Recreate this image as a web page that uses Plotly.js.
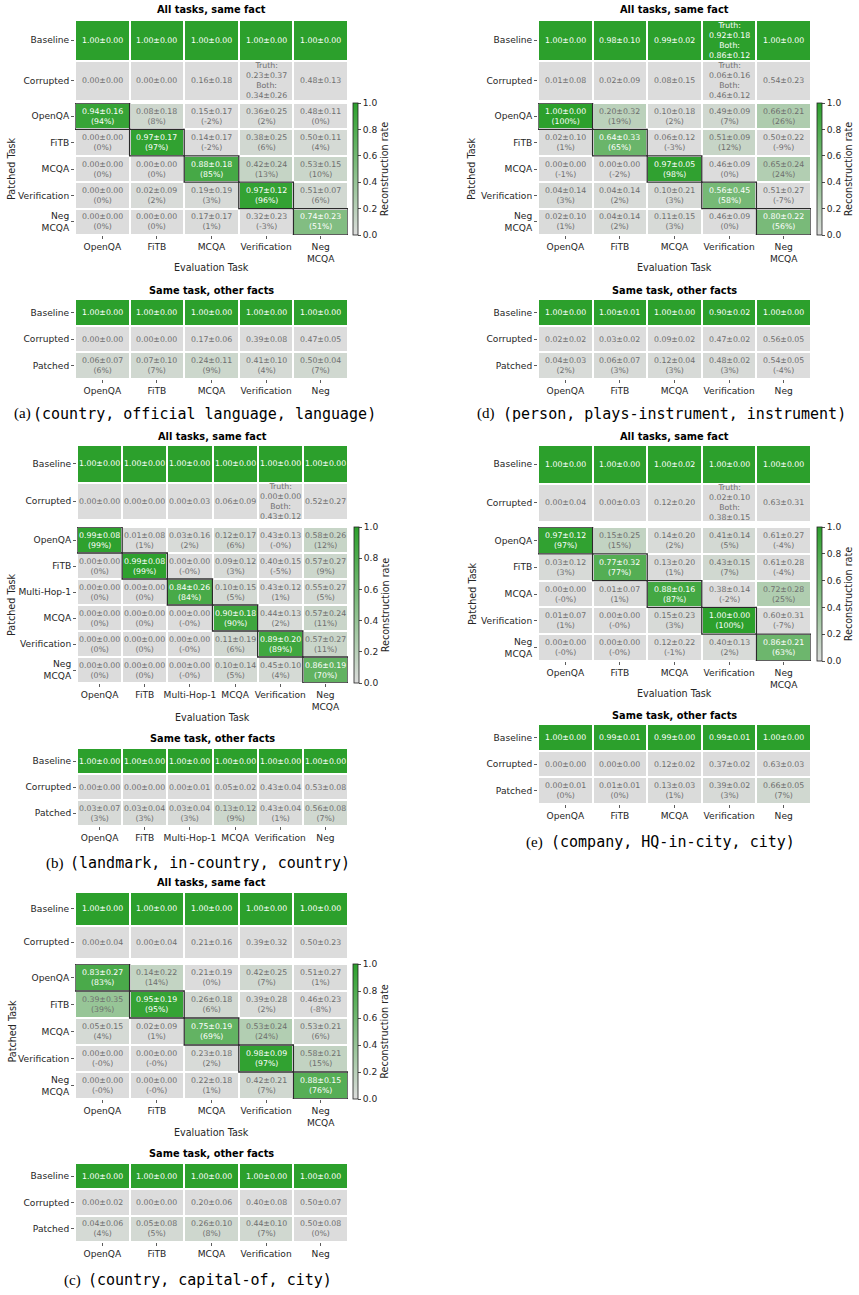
<!DOCTYPE html>
<html>
<head>
<meta charset="utf-8">
<script src="https://cdn.plot.ly/plotly-3.0.1.min.js"></script>
<style>html,body{margin:0;padding:0;background:#fff;}#chart{width:859px;height:1295px;}</style>
</head>
<body>
<div id="chart"></div>
<script>
// ---------------- DATA ----------------
// Panel (a) (country, official language, language)
const aEval = ['OpenQA','FiTB','MCQA','Verification','Neg<br>MCQA'];
const aPatched = ['OpenQA','FiTB','MCQA','Verification','Neg<br>MCQA'];
const aBaseMean = [1.00,1.00,1.00,1.00,1.00];
const aBaseStd  = [0.00,0.00,0.00,0.00,0.00];
const aCorrMean = [0.00,0.00,0.16,null,0.48];
const aCorrStd  = [0.00,0.00,0.18,null,0.13];
const aCorrTruth = [0.23,0.37];
const aCorrBoth  = [0.34,0.26];
const aPatchMean = [[0.94,0.08,0.15,0.36,0.48],[0.00,0.97,0.14,0.38,0.50],[0.00,0.00,0.88,0.42,0.53],[0.00,0.02,0.19,0.97,0.51],[0.00,0.00,0.17,0.32,0.74]];
const aPatchStd  = [[0.16,0.18,0.17,0.25,0.11],[0.00,0.17,0.17,0.25,0.11],[0.00,0.00,0.18,0.24,0.15],[0.00,0.09,0.19,0.12,0.07],[0.00,0.00,0.17,0.23,0.23]];
const aPatchPct  = [[94,8,-2,2,0],[0,97,-2,6,4],[0,0,85,13,10],[0,2,3,96,6],[0,0,1,-3,51]];
const aOtherEval = ['OpenQA','FiTB','MCQA','Verification','Neg'];
const aOtherBaseMean = [1.00,1.00,1.00,1.00,1.00];
const aOtherBaseStd  = [0.00,0.00,0.00,0.00,0.00];
const aOtherCorrMean = [0.00,0.00,0.17,0.39,0.47];
const aOtherCorrStd  = [0.00,0.00,0.06,0.08,0.05];
const aOtherPatchMean = [0.06,0.07,0.24,0.41,0.50];
const aOtherPatchStd  = [0.07,0.10,0.11,0.10,0.04];
const aOtherPatchPct  = [6,7,9,4,7];

// Panel (d) (person, plays-instrument, instrument)
const dEval = ['OpenQA','FiTB','MCQA','Verification','Neg<br>MCQA'];
const dPatched = ['OpenQA','FiTB','MCQA','Verification','Neg<br>MCQA'];
const dBaseMean = [1.00,0.98,0.99,null,1.00];
const dBaseStd  = [0.00,0.10,0.02,null,0.00];
const dBaseTruth = [0.92,0.18];
const dBaseBoth  = [0.86,0.12];
const dCorrMean = [0.01,0.02,0.08,null,0.54];
const dCorrStd  = [0.08,0.09,0.15,null,0.23];
const dCorrTruth = [0.06,0.16];
const dCorrBoth  = [0.46,0.12];
const dPatchMean = [[1.00,0.20,0.10,0.49,0.66],[0.02,0.64,0.06,0.51,0.50],[0.00,0.00,0.97,0.46,0.65],[0.04,0.04,0.10,0.56,0.51],[0.02,0.04,0.11,0.46,0.80]];
const dPatchStd  = [[0.00,0.32,0.18,0.09,0.21],[0.10,0.33,0.12,0.09,0.22],[0.00,0.00,0.05,0.09,0.24],[0.14,0.14,0.21,0.45,0.27],[0.10,0.14,0.15,0.09,0.22]];
const dPatchPct  = [[100,19,2,7,26],[1,65,-3,12,-9],[-1,-2,98,0,24],[3,2,3,58,-7],[1,2,3,0,56]];
const dOtherEval = ['OpenQA','FiTB','MCQA','Verification','Neg'];
const dOtherBaseMean = [1.00,1.00,1.00,0.90,1.00];
const dOtherBaseStd  = [0.00,0.01,0.00,0.02,0.00];
const dOtherCorrMean = [0.02,0.03,0.09,0.47,0.56];
const dOtherCorrStd  = [0.02,0.02,0.02,0.02,0.05];
const dOtherPatchMean = [0.04,0.06,0.12,0.48,0.54];
const dOtherPatchStd  = [0.03,0.07,0.04,0.02,0.05];
const dOtherPatchPct  = [2,3,3,3,-4];

// Panel (b) (landmark, in-country, country)
const bEval = ['OpenQA','FiTB','Multi-Hop-1','MCQA','Verification','Neg<br>MCQA'];
const bPatched = ['OpenQA','FiTB','Multi-Hop-1','MCQA','Verification','Neg<br>MCQA'];
const bBaseMean = [1.00,1.00,1.00,1.00,1.00,1.00];
const bBaseStd  = [0.00,0.00,0.00,0.00,0.00,0.00];
const bCorrMean = [0.00,0.00,0.00,0.06,null,0.52];
const bCorrStd  = [0.00,0.00,0.03,0.09,null,0.27];
const bCorrTruth = [0.00,0.00];
const bCorrBoth  = [0.43,0.12];
const bPatchMean = [[0.99,0.01,0.03,0.12,0.43,0.58],[0.00,0.99,0.00,0.09,0.40,0.57],[0.00,0.00,0.84,0.10,0.43,0.55],[0.00,0.00,0.00,0.90,0.44,0.57],[0.00,0.00,0.00,0.11,0.89,0.57],[0.00,0.00,0.00,0.10,0.45,0.86]];
const bPatchStd  = [[0.08,0.08,0.16,0.17,0.13,0.26],[0.00,0.08,0.00,0.12,0.15,0.27],[0.00,0.00,0.26,0.15,0.12,0.27],[0.00,0.00,0.00,0.18,0.13,0.24],[0.00,0.00,0.00,0.19,0.20,0.27],[0.00,0.00,0.00,0.14,0.10,0.19]];
const bPatchPct  = [[99,1,2,6,-0,12],[0,99,-0,3,-5,9],[0,0,84,5,1,5],[0,0,-0,90,2,11],[0,0,-0,6,89,11],[0,0,-0,5,4,70]];
const bOtherEval = ['OpenQA','FiTB','Multi-Hop-1','MCQA','Verification','Neg'];
const bOtherBaseMean = [1.00,1.00,1.00,1.00,1.00,1.00];
const bOtherBaseStd  = [0.00,0.00,0.00,0.00,0.00,0.00];
const bOtherCorrMean = [0.00,0.00,0.00,0.05,0.43,0.53];
const bOtherCorrStd  = [0.00,0.00,0.01,0.02,0.04,0.08];
const bOtherPatchMean = [0.03,0.03,0.03,0.13,0.43,0.56];
const bOtherPatchStd  = [0.07,0.04,0.04,0.12,0.04,0.08];
const bOtherPatchPct  = [3,3,3,9,1,7];

// Panel (e) (company, HQ-in-city, city)
const eEval = ['OpenQA','FiTB','MCQA','Verification','Neg<br>MCQA'];
const ePatched = ['OpenQA','FiTB','MCQA','Verification','Neg<br>MCQA'];
const eBaseMean = [1.00,1.00,1.00,1.00,1.00];
const eBaseStd  = [0.00,0.00,0.02,0.00,0.00];
const eCorrMean = [0.00,0.00,0.12,null,0.63];
const eCorrStd  = [0.04,0.03,0.20,null,0.31];
const eCorrTruth = [0.02,0.10];
const eCorrBoth  = [0.38,0.15];
const ePatchMean = [[0.97,0.15,0.14,0.41,0.61],[0.03,0.77,0.13,0.43,0.61],[0.00,0.01,0.88,0.38,0.72],[0.01,0.00,0.15,1.00,0.60],[0.00,0.00,0.12,0.40,0.86]];
const ePatchStd  = [[0.12,0.25,0.20,0.14,0.27],[0.12,0.32,0.20,0.15,0.28],[0.00,0.07,0.16,0.14,0.28],[0.07,0.00,0.23,0.00,0.31],[0.00,0.00,0.22,0.13,0.21]];
const ePatchPct  = [[97,15,2,5,-4],[3,77,1,7,-4],[-0,1,87,-2,25],[1,-0,3,100,-7],[-0,-0,-1,2,63]];
const eOtherEval = ['OpenQA','FiTB','MCQA','Verification','Neg'];
const eOtherBaseMean = [1.00,0.99,0.99,0.99,1.00];
const eOtherBaseStd  = [0.00,0.01,0.00,0.01,0.00];
const eOtherCorrMean = [0.00,0.00,0.12,0.37,0.63];
const eOtherCorrStd  = [0.00,0.00,0.02,0.02,0.03];
const eOtherPatchMean = [0.00,0.01,0.13,0.39,0.66];
const eOtherPatchStd  = [0.01,0.01,0.03,0.02,0.05];
const eOtherPatchPct  = [0,0,1,3,7];

// Panel (c) (country, capital-of, city)
const cEval = ['OpenQA','FiTB','MCQA','Verification','Neg<br>MCQA'];
const cPatched = ['OpenQA','FiTB','MCQA','Verification','Neg<br>MCQA'];
const cBaseMean = [1.00,1.00,1.00,1.00,1.00];
const cBaseStd  = [0.00,0.00,0.00,0.00,0.00];
const cCorrMean = [0.00,0.00,0.21,0.39,0.50];
const cCorrStd  = [0.04,0.04,0.16,0.32,0.23];
const cPatchMean = [[0.83,0.14,0.21,0.42,0.51],[0.39,0.95,0.26,0.39,0.46],[0.05,0.02,0.75,0.53,0.53],[0.00,0.00,0.23,0.98,0.58],[0.00,0.00,0.22,0.42,0.88]];
const cPatchStd  = [[0.27,0.22,0.19,0.25,0.27],[0.35,0.19,0.18,0.28,0.23],[0.15,0.09,0.19,0.24,0.21],[0.00,0.00,0.18,0.09,0.21],[0.00,0.00,0.18,0.21,0.15]];
const cPatchPct  = [[83,14,0,7,1],[39,95,6,2,-8],[4,1,69,24,6],[-0,-0,2,97,15],[-0,-0,1,7,76]];
const cOtherEval = ['OpenQA','FiTB','MCQA','Verification','Neg'];
const cOtherBaseMean = [1.00,1.00,1.00,1.00,1.00];
const cOtherBaseStd  = [0.00,0.00,0.00,0.00,0.00];
const cOtherCorrMean = [0.00,0.00,0.20,0.40,0.50];
const cOtherCorrStd  = [0.02,0.00,0.06,0.08,0.07];
const cOtherPatchMean = [0.04,0.05,0.26,0.44,0.50];
const cOtherPatchStd  = [0.06,0.08,0.10,0.10,0.08];
const cOtherPatchPct  = [4,5,8,7,0];

const topRows = ['Baseline','Corrupted'];
const otherRows = ['Baseline','Corrupted','Patched'];
const cbTicks = [0,0.2,0.4,0.6,0.8,1.0];
const titleMain = 'All tasks, same fact';
const titleOther = 'Same task, other facts';
const xTitle = 'Evaluation Task';
const yTitle = 'Patched Task';
const cbTitle = 'Reconstruction rate';

// ---------------- DRAWING ----------------
const W = 859, H = 1295;
const px = x => x / W, py = y => 1 - y / H;
const GREEN = '#2ca02c', GRAY0 = '#dcdcdc';
const CS = [[0, GRAY0], [1, GREEN]];
const FONT = 'DejaVu Sans';
const TXT_GRAY = '#6e6e6e', TICK_C = '#262626';
const CELL_SIZE = 7.8, TICK_SIZE = 9.1, LAB_SIZE = 9.6, TITLE_SIZE = 9.8;

const traces = [], ann = [], shapes = [];
const layout = {
  width: W, height: H,
  margin: {l: 0, r: 0, t: 0, b: 0, autoexpand: false},
  paper_bgcolor: '#fff', plot_bgcolor: '#fff',
  showlegend: false,
  font: {family: FONT, color: TICK_C}
};
let nAx = 0;

const f2 = v => v.toFixed(2);
const ms = (m, s) => f2(m) + '±' + f2(s);
const pctStr = p => '(' + (Object.is(p, -0) ? '-0' : String(p)) + '%)';
const clip01 = v => Math.max(0, Math.min(1, v));
const idx = n => Array.from({length: n}, (_, i) => i);

function newAxes(x0, x1, y0, y1, xt, yt, showX) {
  nAx++;
  const id = nAx === 1 ? '' : String(nAx);
  layout['xaxis' + id] = {
    domain: [px(x0), px(x1)], anchor: 'y' + id,
    range: [-0.5, xt.length - 0.5], tickvals: idx(xt.length), ticktext: xt,
    showticklabels: showX, ticks: showX ? 'outside' : '', ticklen: 3, tickwidth: 0.8, tickcolor: '#333',
    tickfont: {family: FONT, size: TICK_SIZE, color: TICK_C},
    showgrid: false, zeroline: false, showline: false, fixedrange: true
  };
  layout['yaxis' + id] = {
    domain: [py(y1), py(y0)], anchor: 'x' + id,
    range: [yt.length - 0.5, -0.5], tickvals: idx(yt.length), ticktext: yt,
    ticks: 'outside', ticklen: 3, tickwidth: 0.8, tickcolor: '#333',
    tickfont: {family: FONT, size: TICK_SIZE, color: TICK_C},
    showgrid: false, zeroline: false, showline: false, fixedrange: true
  };
  return id;
}

function cellText(id, i, j, text, color) {
  ann.push({xref: 'x' + id, yref: 'y' + id, x: j, y: i, text: text, showarrow: false,
    xanchor: 'center', yanchor: 'middle', font: {family: FONT, size: CELL_SIZE, color: color}});
}

function paperText(x, y, text, size, extra) {
  ann.push(Object.assign({xref: 'paper', yref: 'paper', x: px(x), y: py(y), text: text,
    showarrow: false, xanchor: 'center', yanchor: 'middle',
    font: {family: FONT, size: size, color: '#000'}}, extra || {}));
}

function heat(id, z, showscale, cb) {
  const t = {type: 'heatmap', z: z, x: idx(z[0].length), y: idx(z.length),
    xaxis: 'x' + id, yaxis: 'y' + id, colorscale: CS, zmin: 0, zmax: 1,
    xgap: 2, ygap: 2, showscale: showscale, hoverinfo: 'skip'};
  if (cb) t.colorbar = cb;
  traces.push(t);
}

function special(tr, bo) {
  return 'Truth:<br>' + ms(tr[0], tr[1]) + '<br>Both:<br>' + ms(bo[0], bo[1]);
}

function buildPanel(P, G) {
  const nc = P.evalTasks.length, nr = P.patchTasks.length;
  // top section: Baseline / Corrupted
  const idT = newAxes(G.gx0, G.gx1, G.top[0], G.top[1], P.evalTasks, topRows, false);
  heat(idT, [P.baseMean.map(() => 1), P.corrMean.map(() => 0)], false);
  for (let j = 0; j < nc; j++) {
    const bt = P.baseMean[j] === null ? special(P.baseTruth, P.baseBoth) : ms(P.baseMean[j], P.baseStd[j]);
    cellText(idT, 0, j, bt, '#ffffff');
    const ct = P.corrMean[j] === null ? special(P.corrTruth, P.corrBoth) : ms(P.corrMean[j], P.corrStd[j]);
    cellText(idT, 1, j, ct, TXT_GRAY);
  }
  // patched section
  const idP = newAxes(G.gx0, G.gx1, G.patch[0], G.patch[1], P.evalTasks, P.patchTasks, true);
  const zP = P.patchPct.map(r => r.map(v => clip01(v / 100)));
  heat(idP, zP, true, {
    x: px(G.cbX), xanchor: 'left', xpad: 0, y: py(G.patch[0]), yanchor: 'top', ypad: 0,
    len: G.patch[1] - G.patch[0], lenmode: 'pixels', thickness: 5, thicknessmode: 'pixels',
    outlinecolor: '#222', outlinewidth: 0.8, ticks: 'outside', ticklen: 3, tickwidth: 0.8, tickcolor: '#222',
    tickvals: cbTicks, ticktext: cbTicks.map(v => v.toFixed(1)),
    tickfont: {family: FONT, size: TICK_SIZE, color: TICK_C},
    title: {text: cbTitle, side: 'right', font: {family: FONT, size: LAB_SIZE, color: TICK_C}}
  });
  for (let i = 0; i < nr; i++) {
    for (let j = 0; j < nc; j++) {
      const p = P.patchPct[i][j];
      cellText(idP, i, j, ms(P.patchMean[i][j], P.patchStd[i][j]) + '<br>' + pctStr(p), p >= 50 ? '#ffffff' : TXT_GRAY);
    }
    shapes.push({type: 'rect', xref: 'x' + idP, yref: 'y' + idP, x0: i - 0.5, x1: i + 0.5, y0: i - 0.5, y1: i + 0.5,
      line: {color: '#2a2a2a', width: 1.3}, fillcolor: 'rgba(0,0,0,0)', layer: 'above'});
  }
  // other facts section
  const idO = newAxes(G.gx0, G.gx1, G.other[0], G.other[1], P.otherEval, otherRows, true);
  heat(idO, [P.otherBaseMean.map(() => 1), P.otherCorrMean.map(() => 0), P.otherPatchPct.map(v => clip01(v / 100))], false);
  for (let j = 0; j < P.otherEval.length; j++) {
    cellText(idO, 0, j, ms(P.otherBaseMean[j], P.otherBaseStd[j]), '#ffffff');
    cellText(idO, 1, j, ms(P.otherCorrMean[j], P.otherCorrStd[j]), TXT_GRAY);
    const p = P.otherPatchPct[j];
    cellText(idO, 2, j, ms(P.otherPatchMean[j], P.otherPatchStd[j]) + '<br>' + pctStr(p), p >= 50 ? '#ffffff' : TXT_GRAY);
  }
  // titles and labels
  const cx = (G.gx0 + G.gx1) / 2;
  paperText(cx, G.t1, '<b>' + titleMain + '</b>', TITLE_SIZE);
  paperText(cx, G.t2, '<b>' + titleOther + '</b>', TITLE_SIZE);
  paperText(cx, G.evalY, xTitle, LAB_SIZE, {font: {family: FONT, size: LAB_SIZE, color: TICK_C}});
  paperText(G.ptX, (G.patch[0] + G.patch[1]) / 2, yTitle, LAB_SIZE, {textangle: -90, font: {family: FONT, size: LAB_SIZE, color: TICK_C}});
  // caption
  paperText(G.cap.lx - 3, G.cap.y, P.capLabel, 15, {xanchor: 'left', font: {family: 'Liberation Serif', size: 15, color: '#000'}});
  paperText(G.cap.tx - 3, G.cap.y, P.capText, 15, {xanchor: 'left', font: {family: 'DejaVu Sans Mono', size: 15, color: '#000'}});
}

buildPanel({evalTasks: aEval, patchTasks: aPatched, baseMean: aBaseMean, baseStd: aBaseStd,
  corrMean: aCorrMean, corrStd: aCorrStd, corrTruth: aCorrTruth, corrBoth: aCorrBoth,
  patchMean: aPatchMean, patchStd: aPatchStd, patchPct: aPatchPct,
  otherEval: aOtherEval, otherBaseMean: aOtherBaseMean, otherBaseStd: aOtherBaseStd,
  otherCorrMean: aOtherCorrMean, otherCorrStd: aOtherCorrStd,
  otherPatchMean: aOtherPatchMean, otherPatchStd: aOtherPatchStd, otherPatchPct: aOtherPatchPct,
  capLabel: '(a)', capText: '(country, official language, language)'},
  {gx0: 75, gx1: 348, top: [20, 101], patch: [103, 235], other: [299, 379], t1: 10, t2: 290, evalY: 268, ptX: 12, cbX: 353, cap: {y: 414, lx: 15, tx: 34}});

buildPanel({evalTasks: dEval, patchTasks: dPatched, baseMean: dBaseMean, baseStd: dBaseStd,
  baseTruth: dBaseTruth, baseBoth: dBaseBoth,
  corrMean: dCorrMean, corrStd: dCorrStd, corrTruth: dCorrTruth, corrBoth: dCorrBoth,
  patchMean: dPatchMean, patchStd: dPatchStd, patchPct: dPatchPct,
  otherEval: dOtherEval, otherBaseMean: dOtherBaseMean, otherBaseStd: dOtherBaseStd,
  otherCorrMean: dOtherCorrMean, otherCorrStd: dOtherCorrStd,
  otherPatchMean: dOtherPatchMean, otherPatchStd: dOtherPatchStd, otherPatchPct: dOtherPatchPct,
  capLabel: '(d)', capText: '(person, plays-instrument, instrument)'},
  {gx0: 538, gx1: 811, top: [20, 101], patch: [103, 235], other: [299, 379], t1: 10, t2: 290, evalY: 268, ptX: 472, cbX: 817, cap: {y: 414, lx: 478, tx: 504}});

buildPanel({evalTasks: bEval, patchTasks: bPatched, baseMean: bBaseMean, baseStd: bBaseStd,
  corrMean: bCorrMean, corrStd: bCorrStd, corrTruth: bCorrTruth, corrBoth: bCorrBoth,
  patchMean: bPatchMean, patchStd: bPatchStd, patchPct: bPatchPct,
  otherEval: bOtherEval, otherBaseMean: bOtherBaseMean, otherBaseStd: bOtherBaseStd,
  otherCorrMean: bOtherCorrMean, otherCorrStd: bOtherCorrStd,
  otherPatchMean: bOtherPatchMean, otherPatchStd: bOtherPatchStd, otherPatchPct: bOtherPatchPct,
  capLabel: '(b)', capText: '(landmark, in-country, country)'},
  {gx0: 77, gx1: 348, top: [445, 520], patch: [527, 683], other: [748, 826], t1: 436, t2: 738, evalY: 717, ptX: 12, cbX: 354, cap: {y: 863, lx: 47, tx: 71}});

buildPanel({evalTasks: eEval, patchTasks: ePatched, baseMean: eBaseMean, baseStd: eBaseStd,
  corrMean: eCorrMean, corrStd: eCorrStd, corrTruth: eCorrTruth, corrBoth: eCorrBoth,
  patchMean: ePatchMean, patchStd: ePatchStd, patchPct: ePatchPct,
  otherEval: eOtherEval, otherBaseMean: eOtherBaseMean, otherBaseStd: eOtherBaseStd,
  otherCorrMean: eOtherCorrMean, otherCorrStd: eOtherCorrStd,
  otherPatchMean: eOtherPatchMean, otherPatchStd: eOtherPatchStd, otherPatchPct: eOtherPatchPct,
  capLabel: '(e)', capText: '(company, HQ-in-city, city)'},
  {gx0: 538, gx1: 811, top: [445, 522], patch: [527, 661], other: [724, 804], t1: 436, t2: 715, evalY: 693, ptX: 472, cbX: 817, cap: {y: 842, lx: 527, tx: 552}});

buildPanel({evalTasks: cEval, patchTasks: cPatched, baseMean: cBaseMean, baseStd: cBaseStd,
  corrMean: cCorrMean, corrStd: cCorrStd,
  patchMean: cPatchMean, patchStd: cPatchStd, patchPct: cPatchPct,
  otherEval: cOtherEval, otherBaseMean: cOtherBaseMean, otherBaseStd: cOtherBaseStd,
  otherCorrMean: cOtherCorrMean, otherCorrStd: cOtherCorrStd,
  otherPatchMean: cOtherPatchMean, otherPatchStd: cOtherPatchStd, otherPatchPct: cOtherPatchPct,
  capLabel: '(c)', capText: '(country, capital-of, city)'},
  {gx0: 75, gx1: 348, top: [892, 959], patch: [964, 1099], other: [1163, 1242], t1: 882, t2: 1153, evalY: 1132, ptX: 12, cbX: 353, cap: {y: 1280, lx: 65, tx: 89}});

layout.annotations = ann;
layout.shapes = shapes;
Plotly.newPlot('chart', traces, layout, {displayModeBar: false, staticPlot: true});
</script>
</body>
</html>
